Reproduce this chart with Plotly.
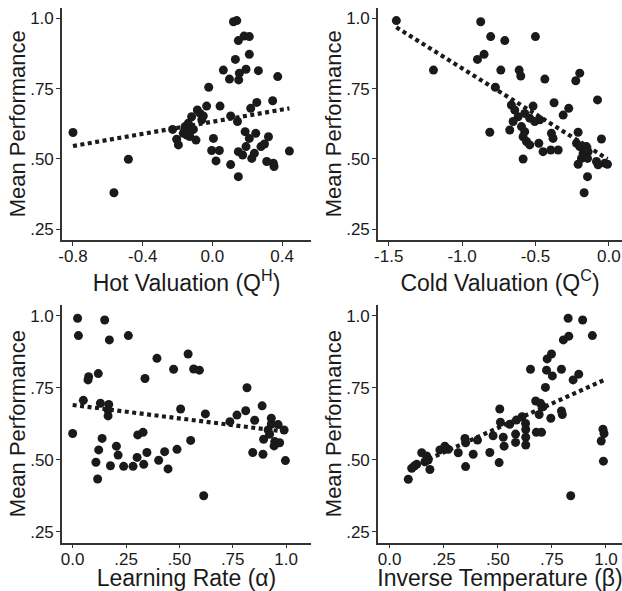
import plotly.graph_objects as go

# ---------------- data ----------------
hot_x = [-0.80, -0.565, -0.482, -0.228, -0.205, -0.195, -0.167, -0.157, -0.147, -0.138,
         -0.124, -0.119, -0.109, -0.094, -0.086, -0.071, -0.061, -0.052, -0.033, -0.021,
         0.006, -0.004, 0.021, 0.040, 0.044, 0.063, 0.098, 0.105, 0.105, 0.121,
         0.140, 0.132, 0.144, 0.149, 0.151, 0.155, 0.149, 0.149, 0.174, 0.182,
         0.193, 0.188, 0.193, 0.212, 0.212, 0.212, 0.220, 0.226, 0.241, 0.249,
         0.255, 0.264, 0.279, 0.299, 0.312, 0.322, 0.346, 0.350, 0.354, 0.375,
         0.442, -0.160, -0.130]
hot_y = [0.594, 0.380, 0.499, 0.605, 0.570, 0.550, 0.591, 0.615, 0.585, 0.627,
         0.600, 0.650, 0.605, 0.567, 0.674, 0.662, 0.639, 0.653, 0.688, 0.755,
         0.573, 0.530, 0.493, 0.530, 0.688, 0.816, 0.784, 0.480, 0.653, 0.988,
         0.992, 0.854, 0.633, 0.921, 0.781, 0.805, 0.526, 0.437, 0.514, 0.937,
         0.819, 0.597, 0.544, 0.935, 0.872, 0.573, 0.680, 0.502, 0.520, 0.591,
         0.701, 0.814, 0.544, 0.553, 0.491, 0.579, 0.707, 0.485, 0.473, 0.793,
         0.528, 0.600, 0.580]
hot_fit_x = [-0.80, 0.442]
hot_fit_y = [0.546, 0.680]

cold_x = [-1.448, -0.873, -0.805, -0.709, -0.500, -0.850, -0.895, -1.195, -0.736, -0.611,
          -0.600, -0.436, -0.198, -0.225, -0.773, -0.077, -0.373, -0.273, -0.516, -0.311,
          -0.664, -0.641, -0.618, -0.652, -0.573, -0.539, -0.505, -0.470, -0.811, -0.675,
          -0.595, -0.573, -0.584, -0.561, -0.539, -0.477, -0.448, -0.395, -0.345, -0.391,
          -0.380, -0.584, -0.209, -0.220, -0.198, -0.152, -0.175, -0.209, -0.186, -0.141,
          -0.145, -0.050, -0.073, -0.027, -0.009, -0.145, -0.168, -0.084]
cold_y = [0.992, 0.988, 0.935, 0.921, 0.935, 0.872, 0.854, 0.816, 0.816, 0.816,
          0.795, 0.784, 0.805, 0.778, 0.755, 0.710, 0.700, 0.680, 0.688, 0.656,
          0.692, 0.674, 0.650, 0.633, 0.662, 0.645, 0.633, 0.639, 0.595, 0.603,
          0.615, 0.597, 0.579, 0.562, 0.550, 0.556, 0.526, 0.532, 0.532, 0.591,
          0.573, 0.500, 0.595, 0.556, 0.544, 0.544, 0.520, 0.481, 0.502, 0.526,
          0.502, 0.571, 0.479, 0.485, 0.481, 0.437, 0.380, 0.491]
cold_fit_x = [-1.448, -0.009]
cold_fit_y = [0.968, 0.500]

lr_x = [0.000, 0.023, 0.027, 0.050, 0.075, 0.072, 0.120, 0.130, 0.109, 0.117,
        0.122, 0.138, 0.150, 0.169, 0.172, 0.166, 0.166, 0.177, 0.205, 0.213,
        0.239, 0.261, 0.283, 0.302, 0.305, 0.330, 0.333, 0.339, 0.348, 0.395,
        0.403, 0.431, 0.447, 0.473, 0.489, 0.506, 0.541, 0.553, 0.567, 0.594,
        0.614, 0.622, 0.737, 0.770, 0.811, 0.817, 0.853, 0.844, 0.888, 0.892,
        0.895, 0.916, 0.931, 0.931, 0.963, 0.991, 0.947, 0.944, 0.970, 0.997,
        0.923]
lr_y = [0.591, 0.991, 0.931, 0.706, 0.788, 0.777, 0.799, 0.696, 0.491, 0.433,
        0.534, 0.574, 0.985, 0.692, 0.916, 0.672, 0.652, 0.479, 0.547, 0.516,
        0.477, 0.931, 0.477, 0.508, 0.586, 0.595, 0.484, 0.782, 0.525, 0.852,
        0.498, 0.528, 0.468, 0.814, 0.536, 0.676, 0.867, 0.567, 0.815, 0.811,
        0.375, 0.659, 0.632, 0.655, 0.670, 0.750, 0.637, 0.525, 0.687, 0.519,
        0.571, 0.603, 0.624, 0.644, 0.622, 0.603, 0.563, 0.548, 0.559, 0.497,
        0.588]
lr_fit_x = [0.000, 0.997]
lr_fit_y = [0.690, 0.597]

it_x = [0.825, 0.892, 0.937, 0.828, 0.803, 0.748, 0.728, 0.651, 0.725, 0.752,
        0.794, 0.874, 0.848, 0.720, 0.675, 0.697, 0.709, 0.509, 0.691, 0.745,
        0.794, 0.798, 0.612, 0.586, 0.628, 0.512, 0.555, 0.986, 0.086, 0.102,
        0.114, 0.125, 0.148, 0.171, 0.178, 0.186, 0.163, 0.232, 0.255, 0.271,
        0.317, 0.348, 0.351, 0.351, 0.386, 0.406, 0.463, 0.478, 0.506, 0.525,
        0.529, 0.582, 0.582, 0.629, 0.629, 0.629, 0.678, 0.702, 0.837, 0.991,
        0.978, 0.988]
it_y = [0.991, 0.985, 0.931, 0.929, 0.916, 0.867, 0.850, 0.814, 0.811, 0.791,
        0.814, 0.797, 0.777, 0.751, 0.704, 0.696, 0.684, 0.676, 0.657, 0.644,
        0.669, 0.657, 0.649, 0.638, 0.626, 0.630, 0.623, 0.606, 0.432, 0.470,
        0.478, 0.484, 0.524, 0.513, 0.499, 0.466, 0.493, 0.534, 0.547, 0.536,
        0.524, 0.574, 0.559, 0.476, 0.519, 0.568, 0.525, 0.583, 0.490, 0.578,
        0.547, 0.589, 0.560, 0.605, 0.578, 0.551, 0.595, 0.595, 0.375, 0.591,
        0.565, 0.495]
it_fit_x = [0.086, 0.992]
it_fit_y = [0.470, 0.777]

y_title = "Mean Performance"
x_titles = ["Hot Valuation (Q<sup>H</sup>)", "Cold Valuation (Q<sup>C</sup>)",
            "Learning Rate (α)", "Inverse Temperature (β)"]
y_tickvals = [0.25, 0.50, 0.75, 1.0]
y_ticktext = [".25", ".50", ".75", "1.0"]
hot_tickvals = [-0.8, -0.4, 0.0, 0.4]
hot_ticktext = ["-0.8", "-0.4", "0.0", "0.4"]
cold_tickvals = [-1.5, -1.0, -0.5, 0.0]
cold_ticktext = ["-1.5", "-1.0", "-0.5", "0.0"]
unit_tickvals = [0.0, 0.25, 0.5, 0.75, 1.0]
unit_ticktext = ["0.0", ".25", ".50", ".75", "1.0"]

# ---------------- figure ----------------
W, H = 622, 591
FONT = "Arial, 'Liberation Sans', Helvetica, sans-serif"
INK = "#1a1a1a"

fig = go.Figure()

panels = [
    (hot_x, hot_y, hot_fit_x, hot_fit_y, "x", "y"),
    (cold_x, cold_y, cold_fit_x, cold_fit_y, "x2", "y2"),
    (lr_x, lr_y, lr_fit_x, lr_fit_y, "x3", "y3"),
    (it_x, it_y, it_fit_x, it_fit_y, "x4", "y4"),
]
for px, py, fx, fy, xa, ya in panels:
    fig.add_trace(go.Scatter(x=px, y=py, mode="markers", xaxis=xa, yaxis=ya,
                             marker=dict(size=9, color=INK, line=dict(width=0)),
                             showlegend=False, hoverinfo="skip", cliponaxis=False))
    fig.add_trace(go.Scatter(x=fx, y=fy, mode="lines", xaxis=xa, yaxis=ya,
                             line=dict(color=INK, width=4.2, dash="4px,3.5px"),
                             showlegend=False, hoverinfo="skip"))


def xaxis(domain, rng, tickvals, ticktext, title, anchor):
    return dict(domain=domain, range=rng, tickvals=tickvals, ticktext=ticktext,
                anchor=anchor, showline=True, linecolor="#333", linewidth=1.6,
                ticks="outside", ticklen=4, tickwidth=1.4, tickcolor="#333",
                showgrid=False, zeroline=False, automargin=False,
                ticklabelstandoff=-4,
                tickfont=dict(family=FONT, size=17, color=INK),
                title=dict(text=title, font=dict(family=FONT, size=23, color=INK),
                           standoff=6))


def yaxis(domain, rng, anchor):
    return dict(domain=domain, range=rng, tickvals=y_tickvals, ticktext=y_ticktext,
                anchor=anchor, showline=True, linecolor="#333", linewidth=1.6,
                ticks="outside", ticklen=4, tickwidth=1.4, tickcolor="#333",
                showgrid=False, zeroline=False, automargin=False,
                ticklabelstandoff=-1,
                tickfont=dict(family=FONT, size=17, color=INK))


xd_left = [62 / W, 311 / W]
xd_right = [378 / W, 1.0]
yd_top = [(H - 239.8) / H, (H - 7.8) / H]
yd_bot = [(H - 542.5) / H, (H - 304.9) / H]
YR = [0.2125, 1.0375]

annotations = []
for xpix, yd in [(17.5, yd_top), (333.5, yd_top), (17.5, yd_bot), (333.5, yd_bot)]:
    annotations.append(dict(text=y_title, x=xpix / W, y=(yd[0] + yd[1]) / 2,
                            xref="paper", yref="paper", xanchor="center",
                            yanchor="middle", textangle=-90, showarrow=False,
                            font=dict(family=FONT, size=22, color=INK)))

fig.update_layout(
    width=W, height=H,
    margin=dict(l=0, r=0, t=0, b=0, autoexpand=False),
    paper_bgcolor="white", plot_bgcolor="white",
    font=dict(family=FONT, color=INK),
    xaxis=xaxis(xd_left, [-0.863, 0.566], hot_tickvals, hot_ticktext, x_titles[0], "y"),
    yaxis=yaxis(yd_top, YR, "x"),
    xaxis2=xaxis(xd_right, [-1.573, 0.09], cold_tickvals, cold_ticktext, x_titles[1], "y2"),
    yaxis2=yaxis(yd_top, YR, "x2"),
    xaxis3=xaxis(xd_left, [-0.05, 1.117], unit_tickvals, unit_ticktext, x_titles[2], "y3"),
    yaxis3=yaxis(yd_bot, YR, "x3"),
    xaxis4=xaxis(xd_right, [-0.054, 1.074], unit_tickvals, unit_ticktext, x_titles[3], "y4"),
    yaxis4=yaxis(yd_bot, YR, "x4"),
    annotations=annotations,
)

fig.write_html(
    "out.html",
    config={"displayModeBar": False},
    post_script="document.body.style.margin='0';document.body.style.padding='0';"
                "document.body.style.overflow='hidden';",
)
